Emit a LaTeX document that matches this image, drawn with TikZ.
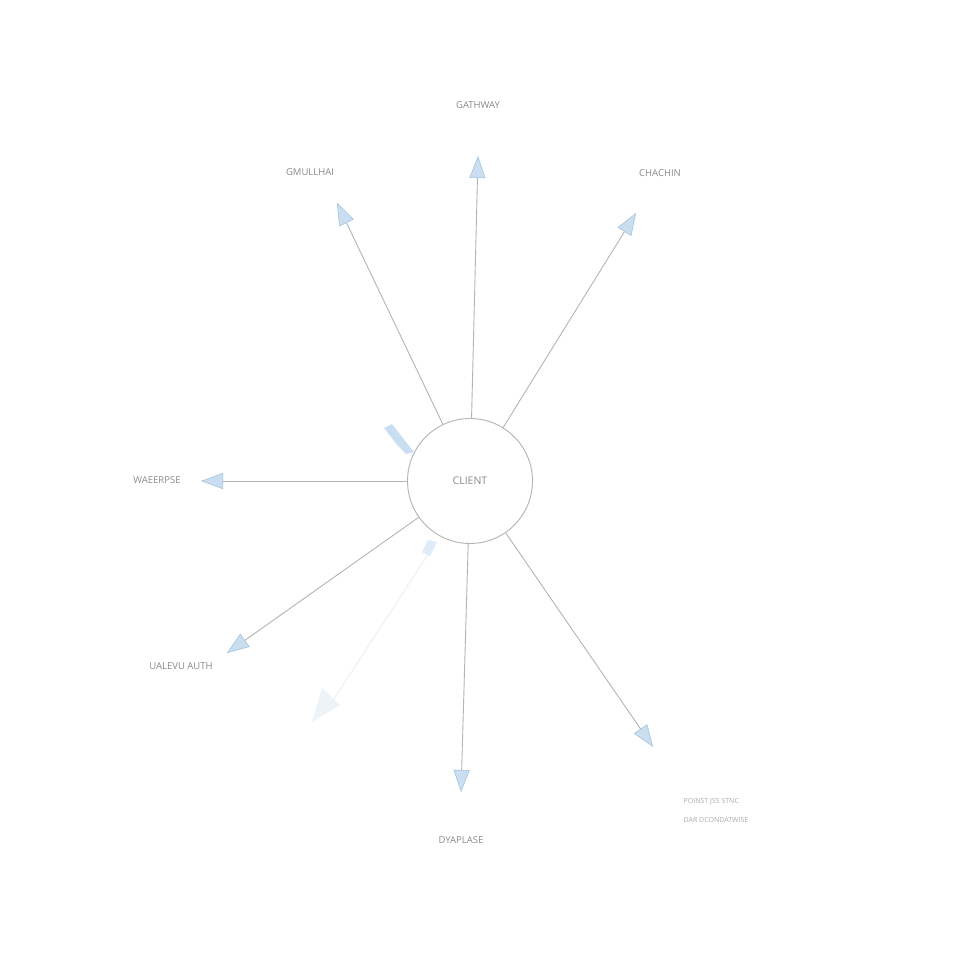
\documentclass[tikz,border=0pt]{standalone}
\usepackage{fontspec}
\setmainfont{Open Sans}
\usetikzlibrary{arrows.meta}
\definecolor{linegray}{HTML}{B4B4B4}
\definecolor{textgray}{HTML}{8A8A8A}
\definecolor{tipblue}{HTML}{C9DFF1}
\definecolor{tipedge}{HTML}{9FBFD8}
\definecolor{faintblue}{HTML}{EDF3F9}
\tikzset{
  conn/.style={draw=linegray, line width=0.9pt,
    -{Triangle[length=22pt,width=16pt,fill=tipblue,color=tipedge,line width=0.5pt]}},
  lbl/.style={text=textgray, font=\fontsize{9.5}{11}\selectfont, inner sep=1pt},
  hub/.style={circle, draw=linegray, line width=0.9pt, minimum size=125pt, text=textgray,
    font=\fontsize{10.5}{12}\selectfont},
}
\begin{document}
\begin{tikzpicture}[x=1pt,y=-1pt]
\useasboundingbox (0,0) rectangle (960,960);
\fill[white] (0,0) rectangle (960,960);

\node[hub] (client) at (470,481) {CLIENT};

\node[lbl] (gw) at (478,105) {GATHWAY};
\node[lbl] (gm) at (310,172) {GMULLHAI};
\node[lbl] (ch) at (660,173) {CHACHIN};
\node[lbl] (wa) at (157,480) {WAEERPSE};
\node[lbl] (ua) at (181,666) {UALEVU AUTH};
\node[lbl] (db) at (461,840) {DYAPLASE};
\node[lbl, align=left, font=\fontsize{7}{19}\selectfont, text=textgray!70] (ps) at (716,810) {POINST JSS STNC\\DAR DCONDATWISE};

\coordinate (tgw) at (478,156);
\coordinate (tgm) at (337,203);
\coordinate (tch) at (636,213);
\coordinate (twa) at (201,481);
\coordinate (tua) at (227,653);
\coordinate (tdb) at (461,792);
\coordinate (tps) at (653,747);

\draw[conn] (client) -- (tgw);
\draw[conn] (client) -- (tgm);
\draw[conn] (client) -- (tch);
\draw[conn] (client.west) -- (twa);
\draw[conn] (client) -- (tua);
\draw[conn] (client) -- (tdb);
\draw[conn] (client) -- (tps);

% faint stray arrow pieces
\fill[tipblue] (384,428) -- (392,424) -- (406,442) -- (414,452) -- (406,454) -- (398,446) -- cycle;
\draw[faintblue, line width=1.2pt] (436,542) -- (330,705);
\fill[tipblue!60] (428,540) -- (437,542) -- (430,556) -- (422,552) -- cycle;
\fill[faintblue] (312,722) -- (322,688) -- (340,705) -- cycle;
\end{tikzpicture}
\end{document}
